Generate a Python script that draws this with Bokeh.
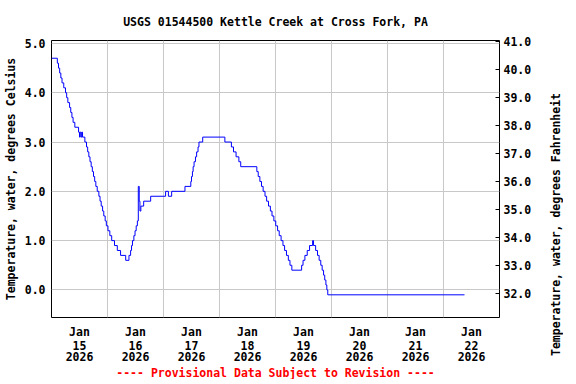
from bokeh.plotting import figure
from bokeh.layouts import row
from bokeh.models import Range1d, LinearAxis, FixedTicker, Title, NumeralTickFormatter
from bokeh.embed import file_html
from bokeh.resources import INLINE

title_text = "USGS 01544500 Kettle Creek at Cross Fork, PA"
left_label = "Temperature, water, degrees Celsius"
right_label = "Temperature, water, degrees Fahrenheit"
footer_text = "---- Provisional Data Subject to Revision ----"

# hours since 2026-01-15 00:00 at which the reading changes
hours = [0.0, 2.5, 3.0, 3.5, 4.0, 4.5, 5.25, 6.0, 6.5, 7.0, 7.75, 8.25, 8.75, 9.25, 10.0,
         11.6, 12.0, 12.3, 12.7, 13.0, 13.3, 14.3,
         15.0, 15.5, 16.0, 16.5, 17.0, 17.5, 18.0, 18.5, 19.0, 19.6,
         20.3, 20.8, 21.3, 21.9, 22.4, 23.0, 23.5, 24.2, 25.0, 25.8,
         27.0, 28.2, 29.6, 31.8, 33.2, 33.9, 34.3, 34.7, 35.3, 35.8, 36.3, 36.8,
         37.2, 37.6, 37.9, 38.3, 39.5, 42.5, 48.9, 50.1, 51.5, 57.2,
         59.7, 60.0, 60.4, 60.7, 61.1, 61.7, 62.2, 62.8, 63.2, 64.8, 74.3, 77.1, 78.0, 79.1, 80.3, 81.1,
         88.0, 88.6, 89.3, 90.0, 90.7, 91.5, 92.2, 93.0, 93.8, 94.5, 95.3, 96.1, 96.9, 97.6, 98.4,
         99.2, 99.9, 100.7, 101.5, 102.2, 103.0,
         107.2, 107.8, 108.6, 109.6, 110.6, 111.9, 112.3, 113.2, 114.0, 114.7, 115.4, 116.0, 116.6,
         117.1, 117.6, 118.0, 118.4, 177.0]
temp_c = [4.7, 4.6, 4.5, 4.4, 4.3, 4.2, 4.1, 4.0, 3.9, 3.8, 3.7, 3.6, 3.5, 3.4, 3.3,
          3.2, 3.1, 3.2, 3.1, 3.2, 3.1, 3.0,
          2.9, 2.8, 2.7, 2.6, 2.5, 2.4, 2.3, 2.2, 2.1, 2.0,
          1.9, 1.8, 1.7, 1.6, 1.5, 1.4, 1.3, 1.2, 1.1, 1.0,
          0.9, 0.8, 0.7, 0.6, 0.7, 0.8, 0.9, 1.0, 1.1, 1.2, 1.3, 1.4,
          2.1, 1.8, 1.6, 1.7, 1.8, 1.9, 2.0, 1.9, 2.0, 2.1,
          2.2, 2.3, 2.4, 2.5, 2.6, 2.7, 2.8, 2.9, 3.0, 3.1, 3.0, 2.9, 2.8, 2.7, 2.6, 2.5,
          2.4, 2.3, 2.2, 2.1, 2.0, 1.9, 1.8, 1.7, 1.6, 1.5, 1.4, 1.3, 1.2, 1.1, 1.0,
          0.9, 0.8, 0.7, 0.6, 0.5, 0.4,
          0.5, 0.6, 0.7, 0.8, 0.9, 1.0, 0.9, 0.8, 0.7, 0.6, 0.5, 0.4, 0.3,
          0.2, 0.1, 0.0, -0.1, -0.1]

day_numbers = [15, 16, 17, 18, 19, 20, 21, 22]
month_label = "Jan"
year_label = "2026"
c_ticks = [0, 1, 2, 3, 4, 5]
f_ticks = [32, 33, 34, 35, 36, 37, 38, 39, 40, 41]

FONT = "DejaVu Sans Mono"
FS = "11.5px"
C_MIN, C_MAX = -0.56, 5.06
F_MIN, F_MAX = 31.14, 41.05

p = figure(frame_width=448, frame_height=277, output_backend="svg", toolbar_location=None,
           x_range=Range1d(0, 24 * len(day_numbers)), y_range=Range1d(C_MIN, C_MAX),
           min_border_left=0, min_border_right=0, min_border_top=0, min_border_bottom=0,
           background_fill_color="white", border_fill_color="white",
           outline_line_color="black", outline_line_width=1)

p.title = Title(text=title_text, align="center", text_font=FONT, text_font_size=FS,
                text_font_style="bold", text_color="black", standoff=24)

p.step(hours, temp_c, mode="after", line_color="#0000ff", line_width=1)


def style(ax):
    ax.major_label_text_font = FONT
    ax.major_label_text_font_size = FS
    ax.major_label_text_font_style = "bold"
    ax.major_label_text_color = "black"
    ax.axis_label_text_font = FONT
    ax.axis_label_text_font_size = FS
    ax.axis_label_text_font_style = "bold"
    ax.axis_label_text_color = "black"
    ax.minor_tick_line_color = None
    ax.axis_line_color = None


# x axes: three stacked rows of labels at noon, grid at midnight
label_ticks = [24 * i + 12 for i in range(len(day_numbers))]
rows = [
    {t: month_label for t in label_ticks},
    {t: str(d) for t, d in zip(label_ticks, day_numbers)},
    {t: year_label for t in label_ticks},
]
xa = p.xaxis[0]
xa.ticker = FixedTicker(ticks=label_ticks)
xa.major_label_overrides = rows[0]
xa.major_tick_line_color = None
xa.major_tick_out = 0
xa.major_tick_in = 0
xa.major_label_standoff = 7
style(xa)
for r in rows[1:]:
    ax = LinearAxis(ticker=FixedTicker(ticks=label_ticks), major_label_overrides=r,
                    major_tick_line_color=None, major_tick_out=0, major_tick_in=0,
                    major_label_standoff=-1)
    style(ax)
    p.add_layout(ax, "below")
p.xgrid.ticker = FixedTicker(ticks=[24 * i for i in range(1, len(day_numbers))])
p.xgrid.grid_line_color = "#c8c8c8"

# left axis
yl = p.yaxis[0]
yl.ticker = FixedTicker(ticks=c_ticks)
yl.formatter = NumeralTickFormatter(format="0.0")
yl.major_tick_line_color = None
yl.major_tick_out = 0
yl.major_tick_in = 0
yl.major_label_standoff = 6
yl.axis_label = left_label
yl.axis_label_standoff = 4
style(yl)
p.ygrid.grid_line_color = "#c8c8c8"

# right axis (Fahrenheit); blank axis label only reserves room
p.extra_y_ranges = {"F": Range1d(F_MIN, F_MAX)}
yr = LinearAxis(y_range_name="F", ticker=FixedTicker(ticks=f_ticks),
                formatter=NumeralTickFormatter(format="0.0"),
                major_tick_in=4, major_tick_out=0, major_tick_line_color="black",
                major_label_standoff=4, axis_label=" ", axis_label_standoff=-5)
style(yr)
p.add_layout(yr, "right")

footer = Title(text=footer_text, align="center", text_font=FONT, text_font_size=FS,
               text_font_style="bold", text_color="red", standoff=0)
p.add_layout(footer, "below")

# narrow companion figure carrying the Fahrenheit title, reading bottom-to-top
q = figure(frame_width=1, frame_height=368, output_backend="svg", toolbar_location=None,
           x_axis_location=None, y_axis_location=None,
           min_border_left=0, min_border_right=0, min_border_top=0, min_border_bottom=0,
           background_fill_color="white", border_fill_color="white", outline_line_color=None)
q.grid.visible = False
q.add_layout(Title(text=right_label, align="center", text_font=FONT, text_font_size=FS,
                   text_font_style="bold", text_color="black", standoff=0, offset=-33), "left")

layout = row(p, q, spacing=0)

open("out.html", "w").write(file_html(layout, INLINE))
